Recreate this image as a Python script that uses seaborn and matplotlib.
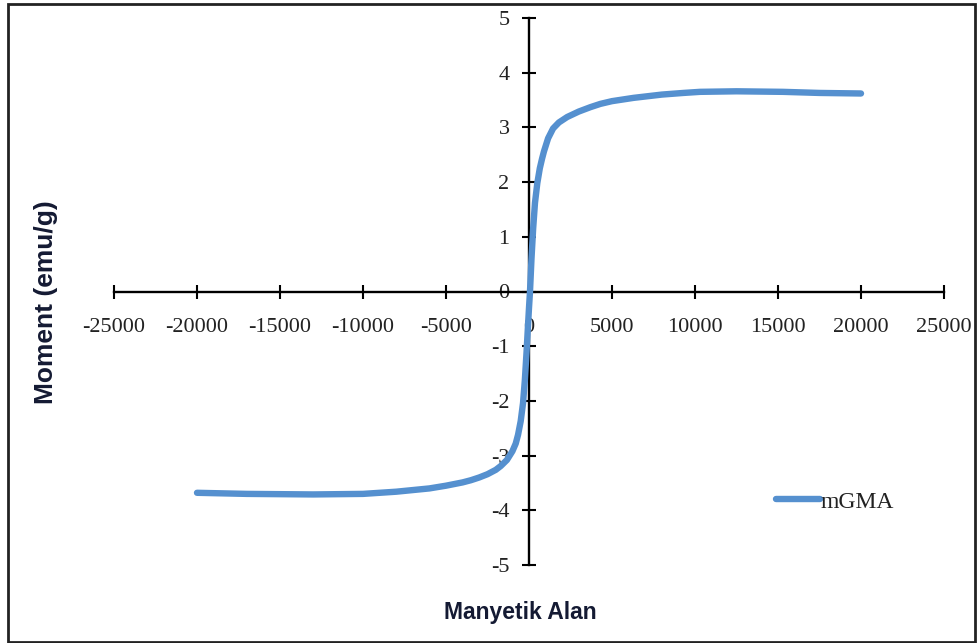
import matplotlib
matplotlib.use("Agg")
import matplotlib.pyplot as plt
import seaborn as sns
import pandas as pd
from matplotlib.patches import Rectangle

# Magnetisation curve of the mGMA sample
field = [-20000, -17000, -13000, -10000, -8000, -6000, -5000, -4000, -3500,
         -3000, -2500, -2000, -1700, -1330, -1000, -800, -660, -500, -360,
         -250, -150, -60, 0, 60, 150, 250, 360, 500, 650, 780, 900, 1150,
         1450, 1800, 2300, 3000, 3700, 4300, 5000, 6300, 8000, 9300, 10300,
         12500, 15300, 17500, 20000]
moment = [-3.68, -3.70, -3.71, -3.70, -3.66, -3.60, -3.55, -3.49, -3.45,
          -3.40, -3.34, -3.26, -3.19, -3.08, -2.92, -2.78, -2.62, -2.37, -2.04,
          -1.62, -1.12, -0.62, -0.30, 0.0, 0.60, 1.15, 1.62, 1.98, 2.25, 2.42,
          2.56, 2.80, 2.98, 3.09, 3.19, 3.29, 3.37, 3.43, 3.48, 3.54, 3.60,
          3.63, 3.65, 3.66, 3.65, 3.63, 3.62]
series_name = "mGMA"

x_ticks = list(range(-25000, 25001, 5000))
y_ticks = list(range(-5, 6))

df = pd.DataFrame({"field": field, "moment": moment})

sns.set_theme(style="white")
plt.rcParams["font.family"] = ["Liberation Serif", "DejaVu Serif"]

W, H = 978, 643
fig = plt.figure(figsize=(W / 100, H / 100), dpi=100)
ax = fig.add_axes([114 / W, 1 - 565 / H, (944 - 114) / W, (565 - 18) / H])

sns.lineplot(data=df, x="field", y="moment", ax=ax, color="#5590cf",
             linewidth=4.6, label=series_name, sort=False, estimator=None,
             solid_capstyle="round", solid_joinstyle="round")

ax.set_xlim(-25000, 25000)
ax.set_ylim(-5, 5)
ax.set_xticks(x_ticks)
ax.set_yticks(y_ticks)
ax.set_xticklabels([str(v) for v in x_ticks])
ax.set_yticklabels([str(v) for v in y_ticks])

# Cross-shaped axes through the origin
for side in ("top", "right"):
    ax.spines[side].set_visible(False)
ax.spines["left"].set_position(("data", 0))
ax.spines["bottom"].set_position(("data", 0))
for side in ("left", "bottom"):
    ax.spines[side].set_linewidth(1.7)
    ax.spines[side].set_color("black")
    ax.spines[side].set_zorder(1)

ax.tick_params(axis="both", direction="inout", length=10, width=1.5,
               colors="black", labelcolor="#222222", labelsize=16,
               bottom=True, left=True)
ax.tick_params(axis="x", pad=14)
ax.tick_params(axis="y", pad=9)
ax.set_xlabel("")
ax.set_ylabel("")
ax.patch.set_visible(False)

fig.text(520 / W, 1 - 612 / H, "Manyetik Alan", ha="center", va="center",
         fontsize=16.5, fontweight="bold", color="#141a33",
         family=["Liberation Sans", "DejaVu Sans"])
fig.text(46 / W, 1 - 302 / H, "Moment (emu/g)", ha="center", va="center",
         rotation=90, fontsize=19, fontweight="bold", color="#141a33",
         family=["Liberation Sans", "DejaVu Sans"])

leg = ax.legend(loc="center left", bbox_to_anchor=(776 / W, 1 - 502 / H),
                bbox_transform=fig.transFigure, frameon=False, fontsize=17,
                handlelength=1.85, handletextpad=0.05, borderpad=0,
                borderaxespad=0)
for t in leg.get_texts():
    t.set_color("#222222")

# Outer frame around the figure
fig.patches.append(Rectangle((8 / W, 1 / H), (975 - 8) / W, (640 - 2) / H,
                             transform=fig.transFigure, fill=False,
                             edgecolor="#222222", linewidth=2))

fig.savefig("out.png", dpi=100, facecolor="white")
